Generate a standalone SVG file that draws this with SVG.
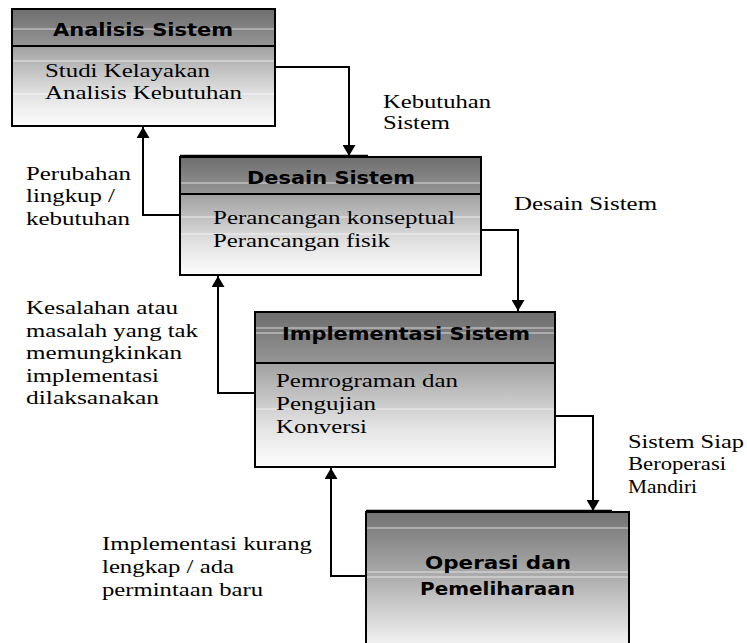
<svg xmlns="http://www.w3.org/2000/svg" width="747" height="643" viewBox="0 0 747 643">
<style>
.box{stroke:#000;stroke-width:2}
.div{stroke:#000;stroke-width:2}
.band{stroke:#fff;stroke-width:1;opacity:0.7}
.ttl{font-family:"DejaVu Sans",sans-serif;font-weight:bold;font-size:17px;fill:#000}
.txt{font-family:"Liberation Serif","Times New Roman",serif;font-size:18.5px;fill:#000}
.conn{fill:none;stroke:#000;stroke-width:2}
.thick{stroke:#000;stroke-width:2.5}
</style>
<defs>
<linearGradient id="hdr" x1="0" y1="0" x2="0" y2="1">
<stop offset="0" stop-color="#6e6e6e"/>
<stop offset="1" stop-color="#959595"/>
</linearGradient>
<linearGradient id="body" x1="0" y1="0" x2="0" y2="1">
<stop offset="0" stop-color="#a0a0a0"/>
<stop offset="0.6" stop-color="#e2e2e2"/>
<stop offset="1" stop-color="#fdfdfd"/>
</linearGradient>
<linearGradient id="op" x1="0" y1="0" x2="0" y2="1">
<stop offset="0" stop-color="#727272"/>
<stop offset="0.45" stop-color="#ababab"/>
<stop offset="1" stop-color="#fafafa"/>
</linearGradient>
<marker id="arr" viewBox="0 0 11 13" refX="11" refY="6.5" markerWidth="11" markerHeight="13" markerUnits="userSpaceOnUse" orient="auto">
<path d="M0,0 L11,6.5 L0,13 Z" fill="#000"/>
</marker>
</defs>

<g id="connectors">
<path class="conn" d="M275,67 H349 V156" marker-end="url(#arr)"/>
<path class="conn" d="M180,215 H143 V127" marker-end="url(#arr)"/>
<path class="conn" d="M481,230 H518 V311" marker-end="url(#arr)"/>
<path class="conn" d="M255,393 H218 V276" marker-end="url(#arr)"/>
<path class="conn" d="M555,416 H593 V511" marker-end="url(#arr)"/>
<path class="conn" d="M366,576 H331 V468" marker-end="url(#arr)"/>
</g>

<g id="analisis">
<rect x="12" y="9" width="263" height="37" fill="url(#hdr)"/>
<rect x="12" y="46" width="263" height="80" fill="url(#body)"/>
<line class="band" x1="13" y1="29" x2="274" y2="29"/>
<line class="band" x1="13" y1="61" x2="274" y2="61"/>
<line class="band" x1="13" y1="94" x2="274" y2="94"/>
<rect class="box" x="12" y="9" width="263" height="117" fill="none"/>
<line class="div" x1="12" y1="46" x2="275" y2="46"/>
<text class="ttl" x="53" y="36" textLength="180" lengthAdjust="spacingAndGlyphs">Analisis Sistem</text>
<text class="txt" x="45" y="77" textLength="165" lengthAdjust="spacingAndGlyphs">Studi Kelayakan</text>
<text class="txt" x="45" y="99" textLength="197" lengthAdjust="spacingAndGlyphs">Analisis Kebutuhan</text>
</g>

<g id="desain">
<rect x="180" y="157" width="301" height="37" fill="url(#hdr)"/>
<rect x="180" y="194" width="301" height="81" fill="url(#body)"/>
<line class="band" x1="181" y1="183" x2="480" y2="183"/>
<line class="band" x1="181" y1="217" x2="480" y2="217"/>
<line class="band" x1="181" y1="234" x2="480" y2="234"/>
<rect class="box" x="180" y="157" width="301" height="118" fill="none"/>
<line class="thick" x1="180" y1="156" x2="368" y2="156"/>
<line class="div" x1="180" y1="194" x2="481" y2="194"/>
<text class="ttl" x="247" y="184" textLength="168" lengthAdjust="spacingAndGlyphs">Desain Sistem</text>
<text class="txt" x="213" y="224" textLength="242" lengthAdjust="spacingAndGlyphs">Perancangan konseptual</text>
<text class="txt" x="213" y="247" textLength="177" lengthAdjust="spacingAndGlyphs">Perancangan fisik</text>
</g>

<g id="implementasi">
<rect x="255" y="312" width="300" height="51" fill="url(#hdr)"/>
<rect x="255" y="363" width="300" height="104" fill="url(#body)"/>
<line class="band" x1="256" y1="328" x2="554" y2="328"/>
<line class="band" x1="256" y1="333" x2="554" y2="333"/>
<line class="band" x1="256" y1="409" x2="554" y2="409"/>
<rect class="box" x="255" y="312" width="300" height="155" fill="none"/>
<line class="div" x1="255" y1="363" x2="555" y2="363"/>
<text class="ttl" x="282" y="340" textLength="248" lengthAdjust="spacingAndGlyphs">Implementasi Sistem</text>
<text class="txt" x="276" y="387" textLength="182" lengthAdjust="spacingAndGlyphs">Pemrograman dan</text>
<text class="txt" x="276" y="410" textLength="100" lengthAdjust="spacingAndGlyphs">Pengujian</text>
<text class="txt" x="276" y="433" textLength="91" lengthAdjust="spacingAndGlyphs">Konversi</text>
</g>

<g id="operasi">
<rect x="366" y="512" width="263" height="140" fill="url(#op)"/>
<line class="band" x1="367" y1="528" x2="628" y2="528"/>
<line class="band" x1="367" y1="572" x2="628" y2="572"/>
<line class="band" x1="367" y1="577" x2="628" y2="577"/>
<path class="box" d="M366,650 V512 H629 V650" fill="none"/>
<line class="thick" x1="366" y1="511" x2="612" y2="511"/>
<text class="ttl" x="425" y="569" textLength="146" lengthAdjust="spacingAndGlyphs">Operasi dan</text>
<text class="ttl" x="420" y="595" textLength="155" lengthAdjust="spacingAndGlyphs">Pemeliharaan</text>
</g>

<g id="labels">
<text class="txt" x="383" y="108" textLength="108" lengthAdjust="spacingAndGlyphs">Kebutuhan</text>
<text class="txt" x="383" y="129" textLength="67" lengthAdjust="spacingAndGlyphs">Sistem</text>
<text class="txt" x="26" y="180" textLength="105" lengthAdjust="spacingAndGlyphs">Perubahan</text>
<text class="txt" x="26" y="202" textLength="89" lengthAdjust="spacingAndGlyphs">lingkup /</text>
<text class="txt" x="26" y="225" textLength="104" lengthAdjust="spacingAndGlyphs">kebutuhan</text>
<text class="txt" x="514" y="210" textLength="143" lengthAdjust="spacingAndGlyphs">Desain Sistem</text>
<text class="txt" x="26" y="314" textLength="152" lengthAdjust="spacingAndGlyphs">Kesalahan atau</text>
<text class="txt" x="26" y="337" textLength="172" lengthAdjust="spacingAndGlyphs">masalah yang tak</text>
<text class="txt" x="26" y="359" textLength="156" lengthAdjust="spacingAndGlyphs">memungkinkan</text>
<text class="txt" x="26" y="382" textLength="133" lengthAdjust="spacingAndGlyphs">implementasi</text>
<text class="txt" x="26" y="404" textLength="133" lengthAdjust="spacingAndGlyphs">dilaksanakan</text>
<text class="txt" x="628" y="448" textLength="116" lengthAdjust="spacingAndGlyphs">Sistem Siap</text>
<text class="txt" x="628" y="470" textLength="98" lengthAdjust="spacingAndGlyphs">Beroperasi</text>
<text class="txt" x="628" y="493" textLength="69" lengthAdjust="spacingAndGlyphs">Mandiri</text>
<text class="txt" x="102" y="550" textLength="210" lengthAdjust="spacingAndGlyphs">Implementasi kurang</text>
<text class="txt" x="102" y="573" textLength="132" lengthAdjust="spacingAndGlyphs">lengkap / ada</text>
<text class="txt" x="102" y="596" textLength="161" lengthAdjust="spacingAndGlyphs">permintaan baru</text>
</g>
</svg>
